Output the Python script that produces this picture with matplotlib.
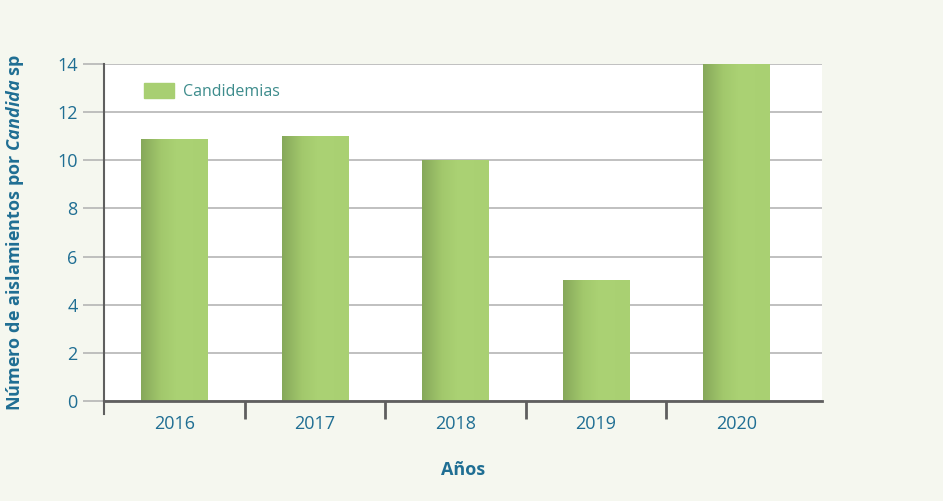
import numpy as np
import matplotlib.pyplot as plt
from matplotlib.colors import LinearSegmentedColormap

# Daten
anios = ["2016", "2017", "2018", "2019", "2020"]
candidemias = [10.85, 11, 10, 5, 14]
y_ticks = [0, 2, 4, 6, 8, 10, 12, 14]

FONDO = "#f5f7ef"
AZUL = "#1f6e93"
TEAL = "#3d8c8c"
GRIS = "#5f5f5f"

plt.rcParams["font.family"] = ["Open Sans", "DejaVu Sans"]
plt.rcParams["mathtext.fontset"] = "custom"
plt.rcParams["mathtext.bfit"] = "Open Sans:italic:bold"

fig = plt.figure(figsize=(9.43, 5.01), dpi=100, facecolor=FONDO)
ax = fig.add_axes([0.1103, 0.1996, 0.7614, 0.6727])
ax.set_facecolor("white")

x = np.arange(len(anios))
ancho = 0.47

# Barras con degradado (borde izquierdo más oscuro)
cmap = LinearSegmentedColormap.from_list(
    "verde", [(0, "#86a85a"), (0.3, "#a2c86c"), (0.55, "#abd274"), (1, "#a9d072")])
grad = np.linspace(0, 1, 256)[None, :]
bars = ax.bar(x, candidemias, width=ancho, color="#a8cf72", zorder=2, label="Candidemias")
for b in bars:
    x0, y0 = b.get_x(), b.get_y()
    w, h = b.get_width(), b.get_height()
    b.set_facecolor("none")
    ax.imshow(grad, cmap=cmap, aspect="auto", extent=(x0, x0 + w, y0, y0 + h),
              zorder=2.5, interpolation="bicubic")
ax.set_xlim(-0.5, 4.61)
ax.set_ylim(0, 14)

# Leyenda
ax.legend(handles=[plt.Rectangle((0, 0), 1, 1, color="#a8cf72")], labels=["Candidemias"],
          loc="upper left", bbox_to_anchor=(0.035, 0.985), frameon=False,
          handlelength=1.9, handleheight=1.0, handletextpad=0.6, fontsize=11.5,
          labelcolor=TEAL)

# Rejilla y ejes
ax.set_yticks(y_ticks)
ax.yaxis.grid(True, color="#b5b5b5", linewidth=1.2, zorder=0)
ax.set_axisbelow(True)
for s in ["top", "right"]:
    ax.spines[s].set_visible(False)
ax.spines["left"].set_color(GRIS)
ax.spines["left"].set_linewidth(1.5)
ax.spines["bottom"].set_color(GRIS)
ax.spines["bottom"].set_linewidth(2)
ax.plot([-0.5, -0.5], [0, -0.55], color=GRIS, lw=1.5, clip_on=False, zorder=3)

ax.tick_params(axis="y", length=15, width=1.2, color="#b5b5b5", labelsize=13,
               labelcolor=AZUL, pad=4)
ax.set_xticks(x)
ax.set_xticklabels(anios)
ax.tick_params(axis="x", length=0, labelsize=13, labelcolor=AZUL, pad=10)
ax.set_xticks(np.arange(0.5, len(anios) - 1, 1), minor=True)
ax.tick_params(axis="x", which="minor", length=13, width=2, color=GRIS)

ax.set_xlabel("Años", fontsize=13, fontweight="bold", color=AZUL, labelpad=20)
ax.set_ylabel(r"Número de aislamientos por $\mathbfit{Candida}$ sp", fontsize=13,
              fontweight="bold", color=AZUL, labelpad=22)

fig.savefig("out.png", dpi=100, facecolor=FONDO)
